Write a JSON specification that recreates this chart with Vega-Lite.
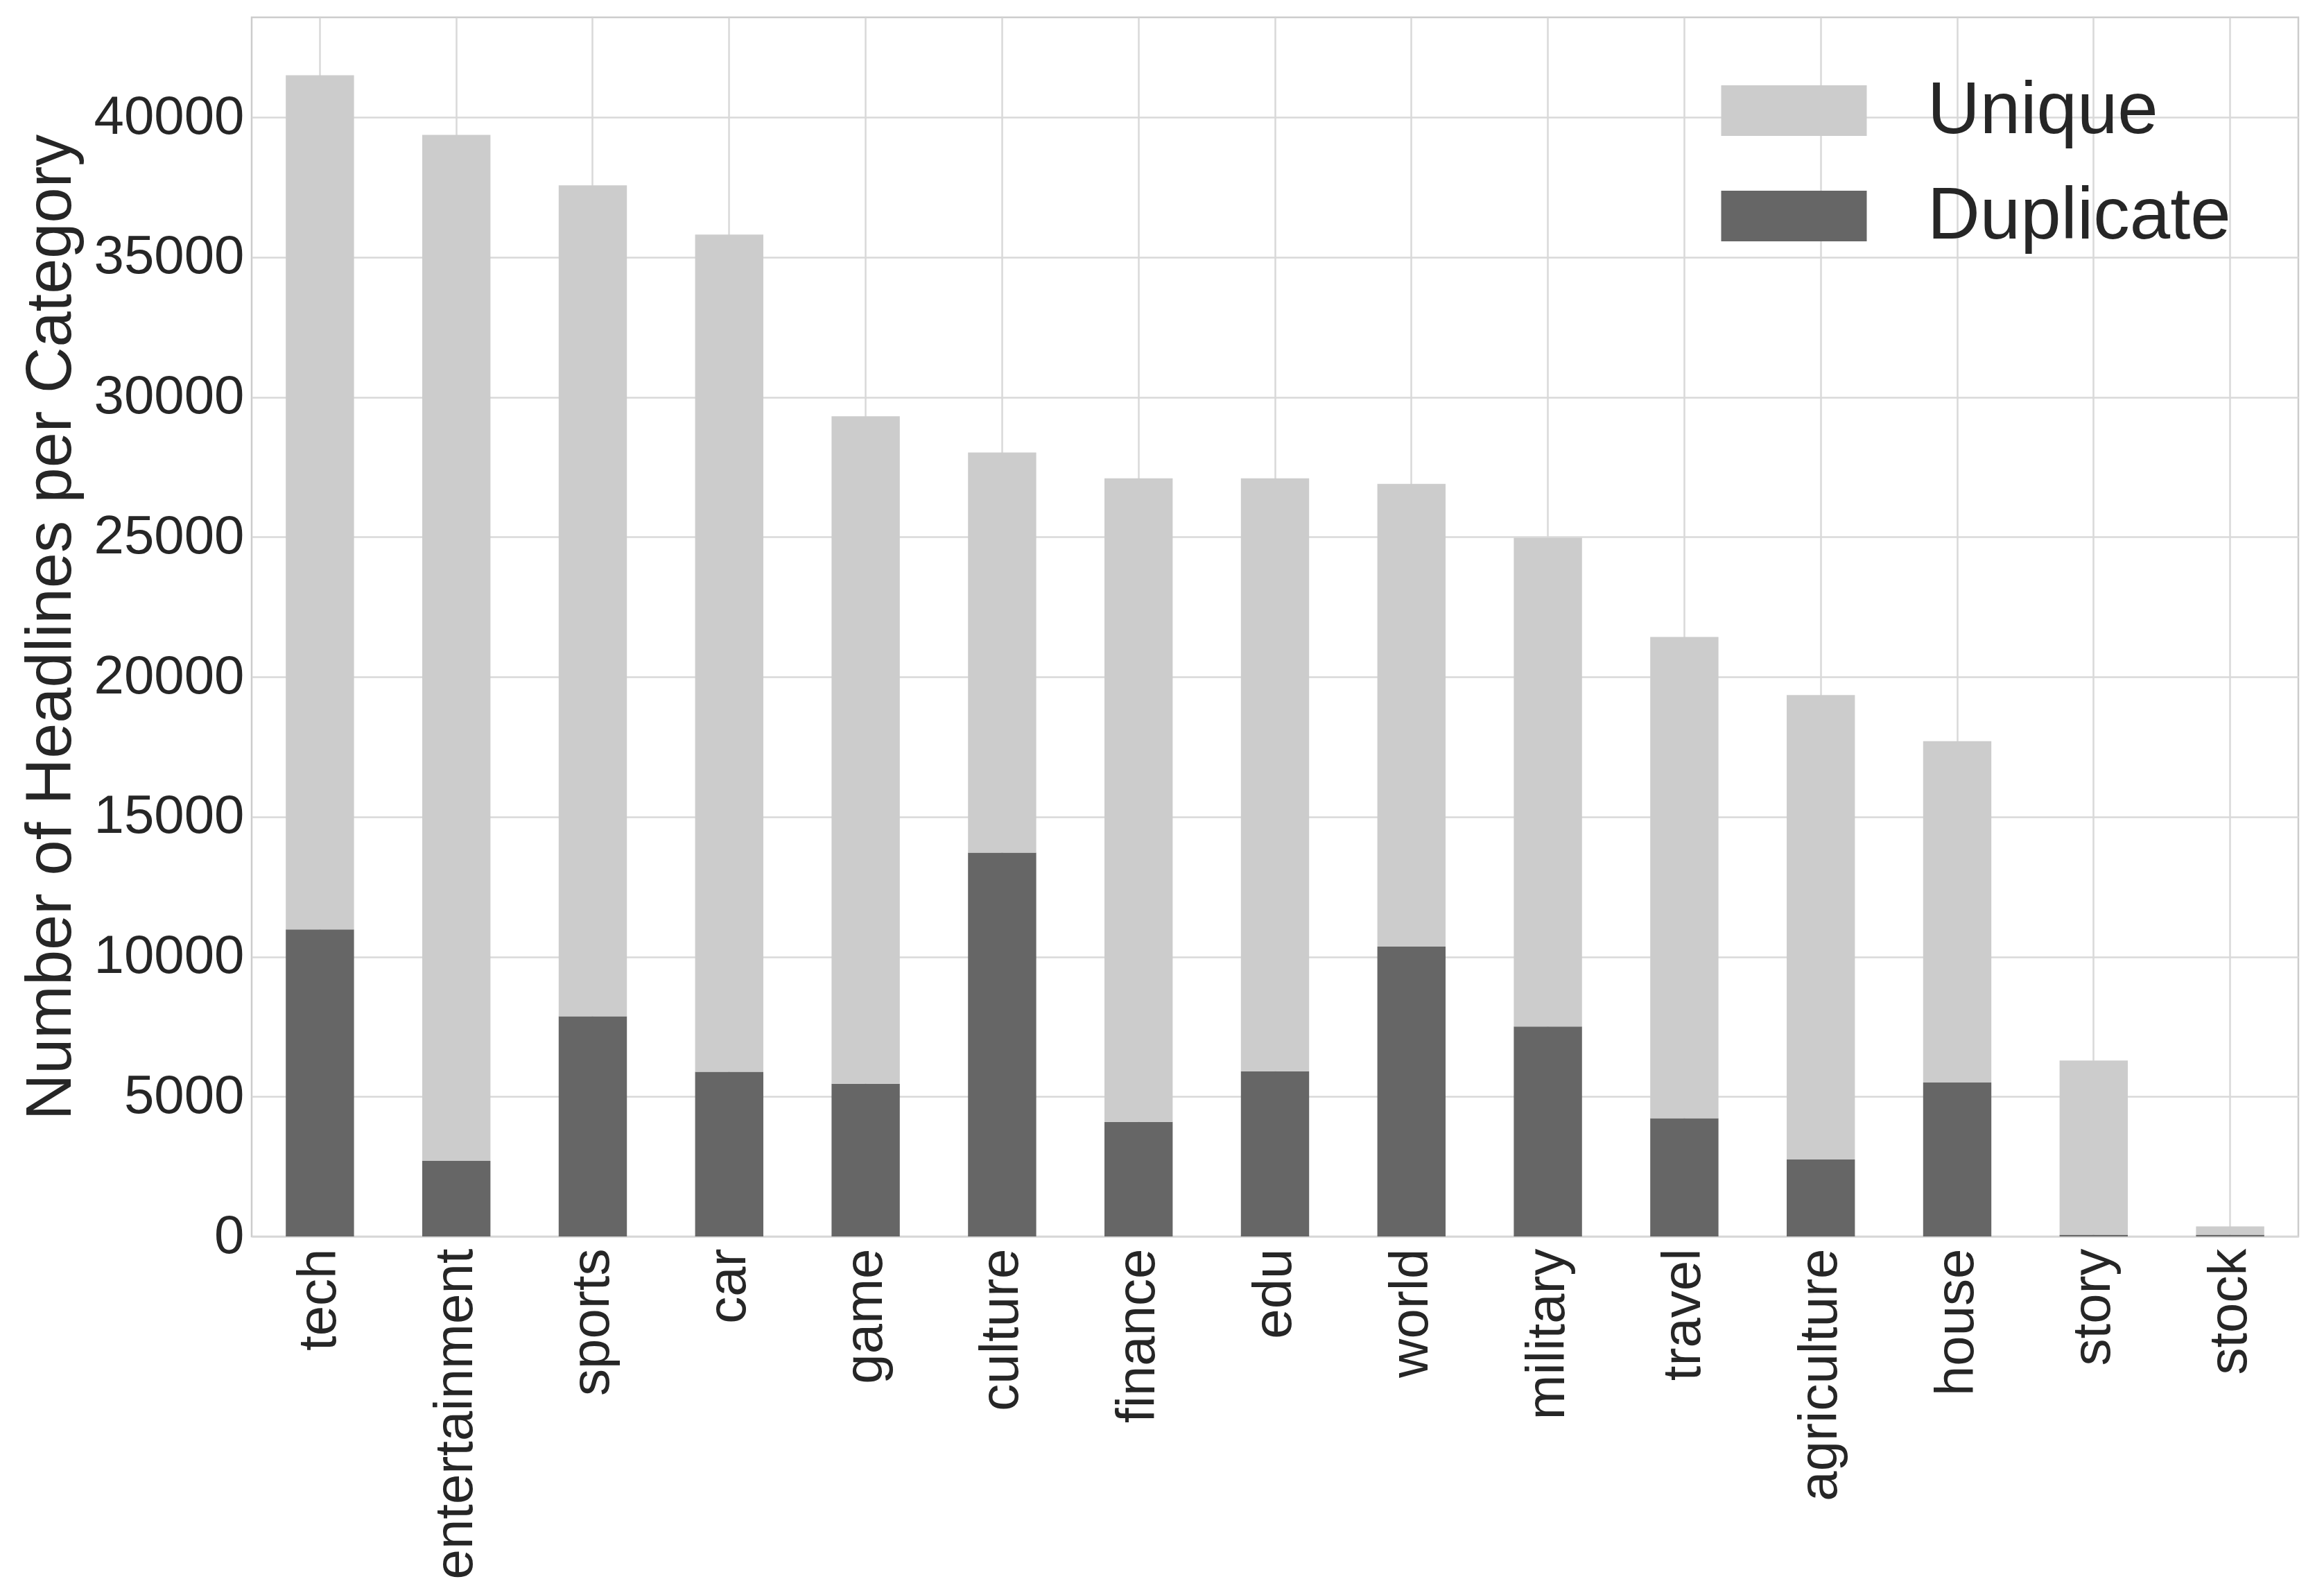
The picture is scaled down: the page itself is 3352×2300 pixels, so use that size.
{
  "$schema": "https://vega.github.io/schema/vega-lite/v6.json",
  "width": 2952,
  "height": 1758,
  "autosize": {"type": "none"},
  "padding": {"left": 363, "top": 25, "right": 37, "bottom": 517},
  "background": "white",
  "config": {
    "font": "Liberation Sans",
    "view": {"stroke": "#cccccc", "strokeWidth": 2.5},
    "axis": {"domain": false, "ticks": false, "gridColor": "#d9d9d9", "gridWidth": 2.5, "labelColor": "#262626", "titleColor": "#262626", "labelFont": "Liberation Sans", "titleFont": "Liberation Sans", "labelLimit": 2000, "labelOverlap": false}
  },
  "data": {
    "values": [
      {"category": "tech", "type": "Duplicate", "count": 10974},
      {"category": "tech", "type": "Unique", "count": 30532},
      {"category": "entertainment", "type": "Duplicate", "count": 2700},
      {"category": "entertainment", "type": "Unique", "count": 36675},
      {"category": "sports", "type": "Duplicate", "count": 7871},
      {"category": "sports", "type": "Unique", "count": 29697},
      {"category": "car", "type": "Duplicate", "count": 5886},
      {"category": "car", "type": "Unique", "count": 29926},
      {"category": "game", "type": "Duplicate", "count": 5458},
      {"category": "game", "type": "Unique", "count": 23859},
      {"category": "culture", "type": "Duplicate", "count": 13720},
      {"category": "culture", "type": "Unique", "count": 14303},
      {"category": "finance", "type": "Duplicate", "count": 4097},
      {"category": "finance", "type": "Unique", "count": 23001},
      {"category": "edu", "type": "Duplicate", "count": 5903},
      {"category": "edu", "type": "Unique", "count": 21195},
      {"category": "world", "type": "Duplicate", "count": 10363},
      {"category": "world", "type": "Unique", "count": 16536},
      {"category": "military", "type": "Duplicate", "count": 7507},
      {"category": "military", "type": "Unique", "count": 17468},
      {"category": "travel", "type": "Duplicate", "count": 4226},
      {"category": "travel", "type": "Unique", "count": 17204},
      {"category": "agriculture", "type": "Duplicate", "count": 2751},
      {"category": "agriculture", "type": "Unique", "count": 16604},
      {"category": "house", "type": "Duplicate", "count": 5501},
      {"category": "house", "type": "Unique", "count": 12201},
      {"category": "story", "type": "Duplicate", "count": 60},
      {"category": "story", "type": "Unique", "count": 6229},
      {"category": "stock", "type": "Duplicate", "count": 60},
      {"category": "stock", "type": "Unique", "count": 297}
    ]
  },
  "mark": {"type": "bar"},
  "encoding": {
    "x": {
      "field": "category",
      "type": "nominal",
      "sort": ["tech", "entertainment", "sports", "car", "game", "culture", "finance", "edu", "world", "military", "travel", "agriculture", "house", "story", "stock"],
      "scale": {"paddingInner": 0.5, "paddingOuter": 0.25},
      "axis": {"title": null, "labelAngle": -90, "labelFontSize": 78, "labelPadding": 17, "grid": true, "bandPosition": 0.5, "labelBaseline": "middle", "labelAlign": "right", "labelLimit": 2000}
    },
    "y": {
      "field": "count",
      "type": "quantitative",
      "stack": "zero",
      "scale": {"domain": [0, 43575], "nice": false, "zero": true},
      "axis": {"title": "Number of Headlines per Category", "titleFontSize": 92, "titleFontWeight": "normal", "titleX": -243, "titleY": 879, "titleAngle": -90, "titleAlign": "center", "titleBaseline": "bottom", "labelFontSize": 78, "labelPadding": 11, "labelLimit": 2000, "values": [0, 5000, 10000, 15000, 20000, 25000, 30000, 35000, 40000], "format": "d", "grid": true}
    },
    "color": {
      "field": "type",
      "type": "nominal",
      "scale": {"domain": ["Unique", "Duplicate"], "range": ["#cccccc", "#666666"]},
      "legend": {
        "title": null,
        "orient": "none",
        "legendX": 2172,
        "legendY": 82,
        "padding": 0,
        "symbolType": "M-2.877,-1H2.877V1H-2.877Z",
        "symbolSize": 5329,
        "symbolStrokeWidth": 0,
        "symbolOpacity": 1,
        "labelFontSize": 105,
        "labelFont": "Liberation Sans",
        "labelColor": "#262626",
        "labelOffset": 140,
        "labelBaseline": "middle",
        "labelDy": 5,
        "rowPadding": 46,
        "labelLimit": 1000
      }
    },
    "order": {"field": "type", "sort": "ascending"}
  }
}
